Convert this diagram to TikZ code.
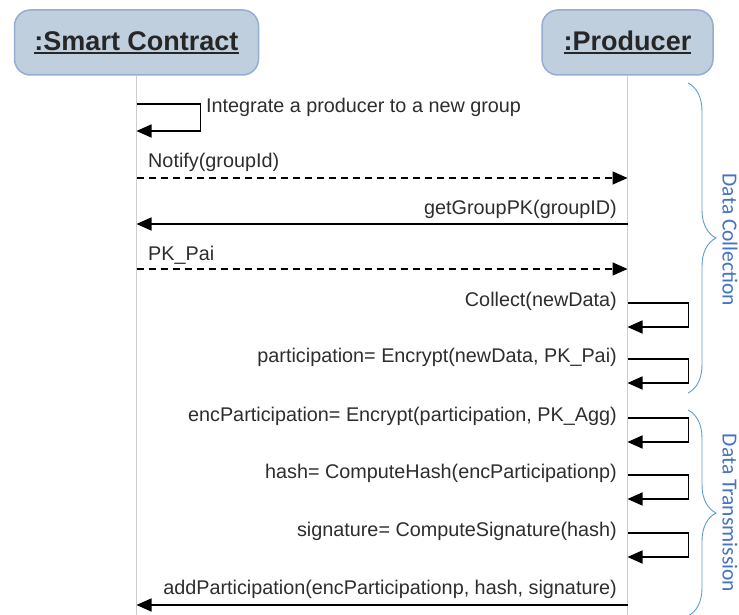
\documentclass[tikz,border=0pt]{standalone}
\usepackage{fontspec}
\setmainfont{Liberation Sans}
\newfontfamily\bracefont{Carlito}
\usetikzlibrary{arrows.meta,decorations.pathreplacing}

\definecolor{boxfill}{RGB}{191,207,222}
\definecolor{boxline}{RGB}{150,172,208}
\definecolor{lifegray}{RGB}{205,205,205}
\definecolor{msgtext}{RGB}{45,45,45}
\definecolor{bracecol}{RGB}{91,155,213}
\definecolor{grouptext}{RGB}{68,114,196}

% bold title with a thick underline
\newcommand\ultitle[1]{\setbox0\hbox{#1}\rlap{\rule[-3.5pt]{\wd0}{1.8pt}}\box0}

\tikzset{
  lifebox/.style={draw=boxline, line width=1.5pt, fill=boxfill, rounded corners=16pt,
    minimum height=65pt, font=\fontsize{27}{30}\selectfont\bfseries, text=black!85},
  lifeline/.style={draw=lifegray, line width=1.2pt},
  msg/.style={line width=1.6pt, -{Triangle[length=15pt,width=13pt]}},
  reply/.style={msg, dash pattern=on 7pt off 5pt},
  msglabel/.style={font=\fontsize{19.8}{22}\selectfont, text=msgtext, inner sep=0pt},
  groupbrace/.style={draw=bracecol, line width=0.9pt, decorate,
    decoration={brace, amplitude=28pt}},
  grouplabel/.style={font=\bracefont\fontsize{21.5}{24}\selectfont, text=grouptext,
    rotate=-90, inner sep=0pt}
}

\begin{document}
\begin{tikzpicture}[x=1pt, y=-1pt]
  \useasboundingbox (0,0) rectangle (739,615);
  \clip (0,0) rectangle (739,615);

  % actors
  \node[lifebox, minimum width=244pt] (sc) at (136.5,42.5) {\ultitle{:Smart Contract}};
  \node[lifebox, minimum width=171pt] (prod) at (627.5,42.5) {\ultitle{:Producer}};

  % lifelines
  \draw[lifeline] (sc.south) -- (sc.south |- 0,620);
  \draw[lifeline] (prod.south) -- (prod.south |- 0,620);

  % contract integrates the producer
  \draw[msg] (sc |- 0,104) -- ++(64,0) -- ++(0,27) -- ++(-64,0);
  \node[msglabel, anchor=west] (integrate) at (206,107) {Integrate a producer to a new group};

  % exchanges between contract and producer
  \draw[reply] (sc |- 0,178) -- (prod |- 0,178);
  \node[msglabel, anchor=west] (notify) at (148,162) {Notify(groupId)};
  \draw[msg] (prod |- 0,224) -- (sc |- 0,224);
  \node[msglabel, anchor=east] (getpk) at (617,209) {getGroupPK(groupID)};
  \draw[reply] (sc |- 0,269) -- (prod |- 0,269);
  \node[msglabel, anchor=west] (pkpai) at (148,255) {PK\_Pai};

  % producer self calls
  \foreach \y/\name/\txt in {303/collect/{Collect(newData)},
      359/encrypt/{participation= Encrypt(newData, PK\_Pai)},
      418/encagg/{encParticipation= Encrypt(participation, PK\_Agg)},
      475/hash/{hash= ComputeHash(encParticipationp)},
      533/sign/{signature= ComputeSignature(hash)}} {
    \draw[msg] (prod |- 0,\y) -- ++(61,0) -- ++(0,24) -- ++(-61,0);
    \node[msglabel, anchor=east] (\name) at (617,\y-2) {\txt};
  }

  % send participation back
  \draw[msg] (prod |- 0,605) -- (sc |- 0,605);
  \node[msglabel, anchor=east] (addpart) at (617,589) {addParticipation(encParticipationp, hash, signature)};

  % phases
  \draw[groupbrace] (688,83) -- (688,393);
  \node[grouplabel] (collection) at (730,240) {Data Collection};
  \draw[groupbrace] (688,410) -- (688,616);
  \node[grouplabel] (transmission) at (730,513) {Data Transmission};
\end{tikzpicture}
\end{document}
